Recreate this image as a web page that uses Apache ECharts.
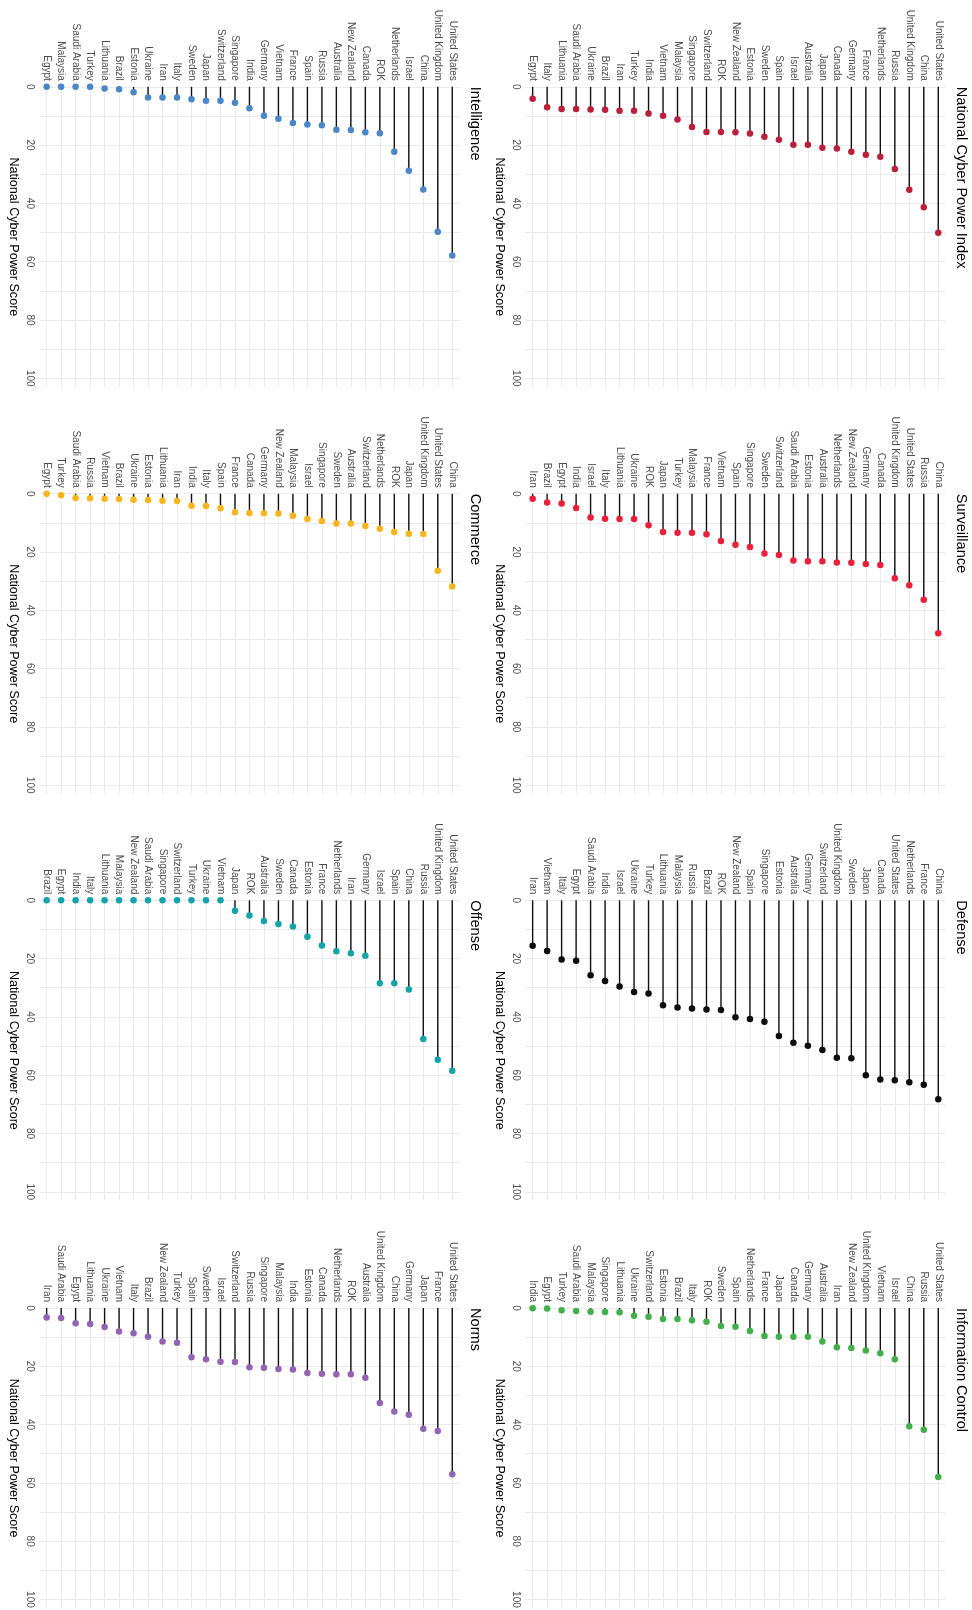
<!DOCTYPE html>
<html>
<head>
<meta charset="utf-8">
<title>National Cyber Power Index</title>
<script src="https://cdn.jsdelivr.net/npm/echarts@6.0.0/dist/echarts.min.js"></script>
<style>
  html, body { margin: 0; padding: 0; background: #fff; }
  #chart { width: 972px; height: 1610px; }
</style>
</head>
<body>
<div id="chart"></div>
<script>
// scores, order = left to right in each panel
const ncpiCountries = ['Egypt', 'Italy', 'Lithuania', 'Saudi Arabia', 'Ukraine', 'Brazil', 'Iran', 'Turkey', 'India', 'Vietnam', 'Malaysia', 'Singapore', 'Switzerland', 'ROK', 'New Zealand', 'Estonia', 'Sweden', 'Spain', 'Israel', 'Australia', 'Japan', 'Canada', 'Germany', 'France', 'Netherlands', 'Russia', 'United Kingdom', 'China', 'United States']
const ncpiScores = [4.1, 7.0, 7.6, 7.6, 7.8, 7.9, 8.2, 8.2, 9.2, 9.9, 11.2, 13.8, 15.5, 15.5, 15.6, 16.0, 17.1, 18.2, 19.9, 19.9, 20.9, 21.2, 22.3, 23.3, 24.0, 28.2, 35.3, 41.3, 50.1]

const intelCountries = ['Egypt', 'Malaysia', 'Saudi Arabia', 'Turkey', 'Lithuania', 'Brazil', 'Estonia', 'Ukraine', 'Iran', 'Italy', 'Sweden', 'Japan', 'Switzerland', 'Singapore', 'India', 'Germany', 'Vietnam', 'France', 'Spain', 'Russia', 'Australia', 'New Zealand', 'Canada', 'ROK', 'Netherlands', 'Israel', 'China', 'United Kingdom', 'United States']
const intelScores = [0, 0, 0, 0, 0.6, 0.8, 1.9, 3.7, 3.7, 3.7, 4.3, 4.8, 4.8, 5.5, 7.4, 9.9, 11.0, 12.4, 12.9, 13.2, 14.7, 14.8, 15.6, 15.9, 22.3, 28.8, 35.2, 49.7, 57.9]

const survCountries = ['Iran', 'Brazil', 'Egypt', 'India', 'Israel', 'Italy', 'Lithuania', 'Ukraine', 'ROK', 'Japan', 'Turkey', 'Malaysia', 'France', 'Vietnam', 'Spain', 'Singapore', 'Sweden', 'Switzerland', 'Saudi Arabia', 'Estonia', 'Australia', 'Netherlands', 'New Zealand', 'Germany', 'Canada', 'United Kingdom', 'United States', 'Russia', 'China']
const survScores = [1.7, 3.0, 3.4, 4.9, 8.2, 8.6, 8.7, 8.7, 10.8, 13.1, 13.4, 13.4, 13.9, 16.2, 17.5, 18.3, 20.5, 21.0, 22.9, 23.2, 23.2, 23.6, 23.7, 24.1, 24.5, 29.0, 31.4, 36.4, 47.9]

const commCountries = ['Egypt', 'Turkey', 'Saudi Arabia', 'Russia', 'Vietnam', 'Brazil', 'Ukraine', 'Estonia', 'Lithuania', 'Iran', 'India', 'Italy', 'Spain', 'France', 'Canada', 'Germany', 'New Zealand', 'Malaysia', 'Israel', 'Singapore', 'Sweden', 'Australia', 'Switzerland', 'Netherlands', 'ROK', 'Japan', 'United Kingdom', 'United States', 'China']
const commScores = [0, 0.5, 1.5, 1.6, 1.7, 1.8, 2.1, 2.2, 2.4, 2.5, 4.1, 4.2, 5.0, 6.4, 6.6, 6.7, 6.8, 7.6, 8.7, 9.4, 10.2, 10.2, 11.1, 12.0, 13.1, 13.7, 13.8, 26.4, 31.8]

const defCountries = ['Iran', 'Vietnam', 'Italy', 'Egypt', 'Saudi Arabia', 'India', 'Israel', 'Ukraine', 'Turkey', 'Lithuania', 'Malaysia', 'Russia', 'Brazil', 'ROK', 'New Zealand', 'Spain', 'Singapore', 'Estonia', 'Australia', 'Germany', 'Switzerland', 'United Kingdom', 'Sweden', 'Japan', 'Canada', 'United States', 'Netherlands', 'France', 'China']
const defScores = [15.6, 17.4, 20.3, 20.7, 25.7, 27.7, 29.6, 31.5, 32.0, 36.0, 36.8, 37.1, 37.5, 37.6, 40.1, 40.7, 41.7, 46.6, 48.9, 49.9, 51.4, 54.0, 54.2, 60.0, 61.5, 61.7, 62.4, 63.3, 68.3]

const offCountries = ['Brazil', 'Egypt', 'India', 'Italy', 'Lithuania', 'Malaysia', 'New Zealand', 'Saudi Arabia', 'Singapore', 'Switzerland', 'Turkey', 'Ukraine', 'Vietnam', 'Japan', 'ROK', 'Australia', 'Sweden', 'Canada', 'Estonia', 'France', 'Netherlands', 'Iran', 'Germany', 'Israel', 'Spain', 'China', 'Russia', 'United Kingdom', 'United States']
const offScores = [0, 0, 0, 0, 0, 0, 0, 0, 0, 0, 0, 0, 0, 3.6, 5.2, 7.1, 8.1, 9.0, 12.5, 15.5, 17.5, 18.2, 19.0, 28.5, 28.5, 30.6, 47.6, 54.7, 58.5]

const infoCountries = ['India', 'Egypt', 'Turkey', 'Saudi Arabia', 'Malaysia', 'Singapore', 'Lithuania', 'Ukraine', 'Switzerland', 'Estonia', 'Brazil', 'Italy', 'ROK', 'Sweden', 'Spain', 'Netherlands', 'France', 'Japan', 'Canada', 'Germany', 'Australia', 'Iran', 'New Zealand', 'United Kingdom', 'Vietnam', 'Israel', 'China', 'Russia', 'United States']
const infoScores = [0.1, 0.2, 0.8, 1.0, 1.3, 1.4, 1.5, 2.7, 3.0, 3.8, 3.8, 4.2, 4.7, 6.2, 6.4, 7.9, 9.6, 9.9, 9.9, 9.9, 11.5, 13.5, 13.7, 14.6, 15.5, 17.6, 40.6, 41.8, 58.0]

const normsCountries = ['Iran', 'Saudi Arabia', 'Egypt', 'Lithuania', 'Ukraine', 'Vietnam', 'Italy', 'Brazil', 'New Zealand', 'Turkey', 'Spain', 'Sweden', 'Israel', 'Switzerland', 'Russia', 'Singapore', 'Malaysia', 'India', 'Estonia', 'Canada', 'Netherlands', 'ROK', 'Australia', 'United Kingdom', 'China', 'Germany', 'Japan', 'France', 'United States']
const normsScores = [3.3, 3.4, 5.2, 5.5, 6.5, 8.1, 8.7, 9.9, 11.5, 11.9, 16.9, 17.6, 18.4, 18.5, 20.3, 20.5, 20.9, 21.1, 22.3, 22.6, 22.7, 22.7, 23.9, 32.6, 35.5, 36.6, 41.4, 42.2, 57.0]

const panels = [
  { title: 'National Cyber Power Index', countries: ncpiCountries, scores: ncpiScores, color: '#bb1f3a', col: 1, row: 0 },
  { title: 'Intelligence', countries: intelCountries, scores: intelScores, color: '#4a86c8', col: 0, row: 0 },
  { title: 'Surveillance', countries: survCountries, scores: survScores, color: '#ec1f3b', col: 1, row: 1 },
  { title: 'Commerce', countries: commCountries, scores: commScores, color: '#fab41e', col: 0, row: 1 },
  { title: 'Defense', countries: defCountries, scores: defScores, color: '#0d0d0d', col: 1, row: 2 },
  { title: 'Offense', countries: offCountries, scores: offScores, color: '#13a4aa', col: 0, row: 2 },
  { title: 'Information Control', countries: infoCountries, scores: infoScores, color: '#42b04a', col: 1, row: 3 },
  { title: 'Norms', countries: normsCountries, scores: normsScores, color: '#9364b3', col: 0, row: 3 }
]

// layout of the rotated facets
const font = '"Liberation Sans", Arial, sans-serif'
const colLeft = [39.4, 525.4]
const gridWidth = 420.1
const rowTop = [86.8, 493.7, 900.3, 1308]
const gridHeight = 300.2   // 103 score units
const titleX = [475, 961]

const chart = echarts.init(document.getElementById('chart'), null, { renderer: 'canvas' })

let grids = [], xAxes = [], yAxes = [], series = [], titles = []
panels.forEach((p, i) => {
  grids.push({
    left: colLeft[p.col], top: rowTop[p.row], width: gridWidth, height: gridHeight,
    containLabel: false, outerBoundsMode: 'none'
  })
  xAxes.push({
    gridIndex: i,
    type: 'category',
    position: 'top',
    data: p.countries,
    boundaryGap: true,
    axisLine: { show: false },
    axisTick: { show: false },
    axisLabel: { interval: 0, rotate: -90, margin: 6, color: '#4d4d4d', fontSize: 10, fontFamily: font },
    splitLine: { show: true, interval: 0, alignWithLabel: true, lineStyle: { color: '#ebebeb', width: 1 } }
  })
  yAxes.push({
    gridIndex: i,
    type: 'value',
    inverse: true,
    min: 0,
    max: 103,
    interval: 10,
    axisLine: { show: false },
    axisTick: { show: false },
    axisLabel: {
      rotate: -90, margin: 5, color: '#4d4d4d', fontSize: 10, fontFamily: font,
      showMaxLabel: false,
      formatter: v => (v % 20 === 0 && v <= 100) ? String(v) : ''
    },
    splitLine: { show: true, showMaxLine: false, lineStyle: { color: '#ebebeb', width: 1 } },
    name: 'National Cyber Power Score',
    nameLocation: 'middle',
    nameRotate: -90,
    nameGap: 19,
    nameTextStyle: { color: '#000', fontSize: 12.6, fontFamily: font }
  })
  // lollipop stem
  series.push({
    type: 'bar',
    xAxisIndex: i,
    yAxisIndex: i,
    data: p.scores,
    barWidth: 1.4,
    itemStyle: { color: '#111' },
    silent: true
  })
  // lollipop head
  series.push({
    type: 'scatter',
    xAxisIndex: i,
    yAxisIndex: i,
    data: p.scores,
    symbolSize: 6.5,
    itemStyle: { color: p.color, opacity: 1 },
    z: 3
  })
  titles.push({
    type: 'text',
    x: titleX[p.col],
    y: rowTop[p.row],
    rotation: -Math.PI / 2,
    style: {
      text: p.title,
      font: '14.6px ' + font,
      fill: '#000',
      align: 'left', verticalAlign: 'middle',
      textAlign: 'left', textVerticalAlign: 'middle'
    }
  })
})

chart.setOption({
  animation: false,
  backgroundColor: '#fff',
  grid: grids,
  xAxis: xAxes,
  yAxis: yAxes,
  series: series,
  graphic: titles
})
</script>
</body>
</html>
